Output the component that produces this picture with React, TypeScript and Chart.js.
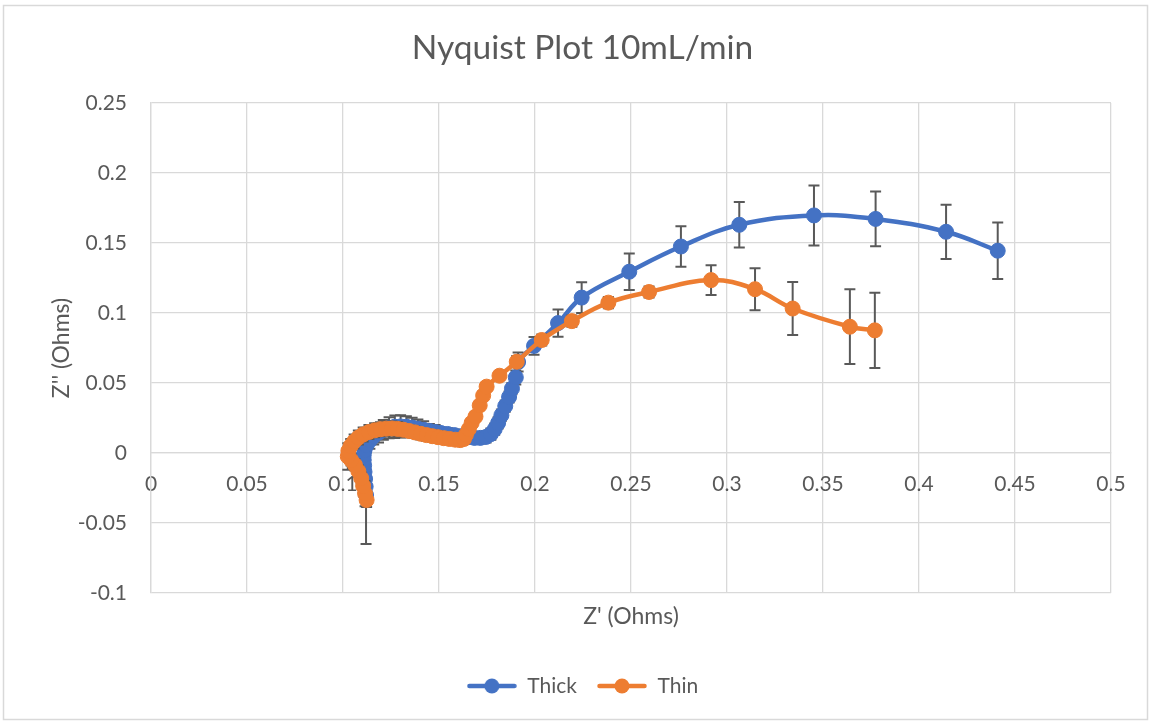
import { useEffect, useRef } from 'react';
import { Chart, registerables } from 'chart.js';

Chart.register(...registerables);

// Thick electrode: Z' (Ohms), Z'' (Ohms) and the Z'' standard deviation, high to low frequency
const thickX = [
  0.112, 0.1118, 0.1115, 0.1112, 0.111, 0.1108, 0.1108, 0.1112, 0.1122, 0.114,
  0.116, 0.1185, 0.121, 0.124, 0.127, 0.13, 0.133, 0.136, 0.139, 0.142,
  0.145, 0.148, 0.151, 0.1545, 0.158, 0.1615, 0.165, 0.1685, 0.1715, 0.1745,
  0.177, 0.179, 0.1808, 0.1825, 0.1845, 0.1865, 0.188, 0.19, 0.1912, 0.1995,
  0.212, 0.2243, 0.2491, 0.276, 0.3064, 0.3453, 0.3774, 0.4141, 0.441,
];
const thickY = [
  -0.03, -0.024, -0.0185, -0.0135, -0.009, -0.005, -0.0015, 0.002, 0.0055, 0.009,
  0.012, 0.0145, 0.0165, 0.018, 0.0188, 0.019, 0.0188, 0.0182, 0.0174, 0.0166,
  0.0158, 0.015, 0.0143, 0.0136, 0.0128, 0.012, 0.0113, 0.0108, 0.0108, 0.0115,
  0.0135, 0.017, 0.0215, 0.027, 0.0335, 0.04, 0.046, 0.054, 0.065, 0.0765,
  0.0928, 0.111, 0.1295, 0.1475, 0.163, 0.1697, 0.1672, 0.158, 0.1445,
];
const thickErr = [
  0.035, 0.01, 0.006, 0.005, 0.005, 0.005, 0.005, 0.005, 0.005, 0.006,
  0.006, 0.007, 0.007, 0.0075, 0.008, 0.008, 0.0075, 0.007, 0.0065, 0.006,
  0.005, 0.005, 0.004, 0.004, 0.004, 0.004, 0.004, 0.004, 0.004, 0.004,
  0.004, 0.004, 0.004, 0.004, 0.004, 0.004, 0.004, 0.005, 0.0068, 0.0064,
  0.0097, 0.011, 0.013, 0.0145, 0.0163, 0.0214, 0.0196, 0.0194, 0.0202,
];

// Thin electrode: Z' (Ohms), Z'' (Ohms) and the Z'' standard deviation, high to low frequency
const thinX = [
  0.1123, 0.1115, 0.1105, 0.1095, 0.108, 0.1062, 0.1042, 0.1025, 0.1028, 0.104,
  0.1058, 0.108, 0.1105, 0.1135, 0.1165, 0.1195, 0.1225, 0.1255, 0.1285, 0.1315,
  0.1345, 0.1375, 0.1405, 0.1435, 0.1465, 0.1495, 0.1525, 0.1555, 0.1585, 0.161,
  0.163, 0.164, 0.1655, 0.167, 0.169, 0.1712, 0.173, 0.1748, 0.1815, 0.1905,
  0.2035, 0.2192, 0.2382, 0.2594, 0.2917, 0.3146, 0.3342, 0.364, 0.377,
];
const thinY = [
  -0.0336, -0.029, -0.0235, -0.018, -0.013, -0.0085, -0.005, -0.0025, 0.0015, 0.005,
  0.0082, 0.011, 0.0133, 0.015, 0.0162, 0.017, 0.0174, 0.0175, 0.0172, 0.0166,
  0.0157, 0.0147, 0.0137, 0.0128, 0.012, 0.0113, 0.0106, 0.01, 0.0095, 0.0092,
  0.01, 0.013, 0.017, 0.0215, 0.026, 0.034, 0.041, 0.0474, 0.0552, 0.0652,
  0.0807, 0.0942, 0.1074, 0.115, 0.1235, 0.117, 0.1032, 0.0902, 0.0876,
];
const thinErr = [
  0.005, 0.009, 0.005, 0.004, 0.004, 0.004, 0.004, 0.0095, 0.004, 0.005,
  0.005, 0.005, 0.005, 0.005, 0.005, 0.005, 0.005, 0.005, 0.005, 0.004,
  0.004, 0.004, 0.004, 0.004, 0.004, 0.004, 0.003, 0.003, 0.003, 0.003,
  0.003, 0.003, 0.003, 0.003, 0.003, 0.003, 0.003, 0.003, 0.003, 0.004,
  0.004, 0.004, 0.004, 0.004, 0.0106, 0.015, 0.019, 0.0267, 0.0268,
];

const seriesNames = ['Thick', 'Thin'];

const xTicks = [0, 0.05, 0.1, 0.15, 0.2, 0.25, 0.3, 0.35, 0.4, 0.45, 0.5];
const xTickLabels = ['0', '0.05', '0.1', '0.15', '0.2', '0.25', '0.3', '0.35', '0.4', '0.45', '0.5'];
const yTicks = [-0.1, -0.05, 0, 0.05, 0.1, 0.15, 0.2, 0.25];
const yTickLabels = ['-0.1', '-0.05', '0', '0.05', '0.1', '0.15', '0.2', '0.25'];

const THICK_COLOR = '#4472C4';
const THIN_COLOR = '#ED7D31';
const TEXT_COLOR = '#595959';
const GRID_COLOR = '#D9D9D9';
const ERR_COLOR = '#595959';
const FONT = 'Lato, "Open Sans", sans-serif';

const errorSets = [thickErr, thinErr];

// Vertical error bars, drawn just beneath each series' own line and markers
const errorBarPlugin = {
  id: 'errorBars',
  beforeDatasetDraw(chart: any, args: any) {
    const errs = errorSets[args.index];
    if (!errs) return;
    const data = chart.data.datasets[args.index].data as { x: number; y: number }[];
    const xs = chart.scales.x;
    const ys = chart.scales.y;
    const ctx = chart.ctx;
    const cap = 5.5;
    ctx.save();
    ctx.strokeStyle = ERR_COLOR;
    ctx.lineWidth = 2;
    data.forEach((p, i) => {
      const px = xs.getPixelForValue(p.x);
      const top = ys.getPixelForValue(p.y + errs[i]);
      const bottom = ys.getPixelForValue(p.y - errs[i]);
      ctx.beginPath();
      ctx.moveTo(px, top);
      ctx.lineTo(px, bottom);
      ctx.moveTo(px - cap, top);
      ctx.lineTo(px + cap, top);
      ctx.moveTo(px - cap, bottom);
      ctx.lineTo(px + cap, bottom);
      ctx.stroke();
    });
    ctx.restore();
  },
};

// White background with a thin outer frame
const framePlugin = {
  id: 'frame',
  beforeDraw(chart: any) {
    const ctx = chart.ctx;
    ctx.save();
    ctx.fillStyle = '#FFFFFF';
    ctx.fillRect(0, 0, chart.width, chart.height);
    ctx.strokeStyle = GRID_COLOR;
    ctx.lineWidth = 1.5;
    ctx.strokeRect(3.5, 5.5, chart.width - 7, chart.height - 10);
    ctx.restore();
  },
};

function legendIcon(color: string): HTMLCanvasElement {
  const c = document.createElement('canvas');
  c.width = 50;
  c.height = 18;
  const g = c.getContext('2d')!;
  g.strokeStyle = color;
  g.lineWidth = 4.5;
  g.lineCap = 'round';
  g.beginPath();
  g.moveTo(2.5, 9);
  g.lineTo(47.5, 9);
  g.stroke();
  g.fillStyle = color;
  g.beginPath();
  g.arc(25, 9, 7.5, 0, Math.PI * 2);
  g.fill();
  return c;
}

export default function App() {
  const ref = useRef<HTMLCanvasElement>(null);

  useEffect(() => {
    const canvas = ref.current;
    if (!canvas) return;
    const toPoints = (xs: number[], ys: number[]) => xs.map((x, i) => ({ x, y: ys[i] }));
    const icons = [legendIcon(THICK_COLOR), legendIcon(THIN_COLOR)];

    const series = (label: string, xs: number[], ys: number[], color: string, order: number) => ({
      label,
      data: toPoints(xs, ys),
      showLine: true,
      tension: 0.4,
      borderColor: color,
      backgroundColor: color,
      borderWidth: 4.5,
      pointRadius: 7.5,
      pointHoverRadius: 7.5,
      pointBackgroundColor: color,
      pointBorderColor: color,
      pointBorderWidth: 1,
      order,
    });

    const chart = new Chart(canvas, {
      type: 'scatter',
      data: {
        datasets: [
          series(seriesNames[0], thickX, thickY, THICK_COLOR, 2),
          series(seriesNames[1], thinX, thinY, THIN_COLOR, 1),
        ],
      },
      options: {
        responsive: false,
        maintainAspectRatio: false,
        animation: false,
        devicePixelRatio: 1,
        layout: { padding: { left: 54, right: 40, top: 0, bottom: 17.5 } },
        plugins: {
          tooltip: { enabled: false },
          title: {
            display: true,
            text: 'Nyquist Plot 10mL/min',
            color: TEXT_COLOR,
            font: { family: FONT, size: 33.5, weight: 'normal', lineHeight: 1.2 },
            padding: { top: 27.9, bottom: 34.9 },
          },
          subtitle: {
            display: true,
            position: 'bottom',
            fullSize: false,
            text: "Z' (Ohms)",
            color: TEXT_COLOR,
            font: { family: FONT, size: 23, weight: 'normal', lineHeight: 1.2 },
            padding: { top: 10.2, bottom: 24.7 },
          },
          legend: {
            display: true,
            position: 'bottom',
            weight: 3000,
            labels: {
              usePointStyle: true,
              pointStyleWidth: 50,
              padding: 20,
              color: TEXT_COLOR,
              font: { family: FONT, size: 21 },
              generateLabels: (c: any) => {
                const items = Chart.defaults.plugins.legend.labels.generateLabels(c);
                return items
                  .sort((a: any, b: any) => a.datasetIndex - b.datasetIndex)
                  .map((it: any) => ({ ...it, pointStyle: icons[it.datasetIndex] }));
              },
            },
          } as any,
        },
        scales: {
          x: {
            type: 'linear',
            position: { y: 0 } as any,
            min: 0,
            max: 0.5,
            afterBuildTicks: (scale: any) => {
              scale.ticks = xTicks.map((v) => ({ value: v }));
            },
            ticks: {
              padding: 19,
              color: TEXT_COLOR,
              font: { family: FONT, size: 21 },
              maxRotation: 0,
              autoSkip: false,
              callback: (_v: any, i: number) => xTickLabels[i],
            },
            grid: { color: GRID_COLOR, lineWidth: 1.3, drawTicks: false },
            border: { display: true, color: GRID_COLOR, width: 1.3 },
          },
          y: {
            type: 'linear',
            position: 'left',
            min: -0.1,
            max: 0.25,
            afterBuildTicks: (scale: any) => {
              scale.ticks = yTicks.map((v) => ({ value: v }));
            },
            afterFit: (scale: any) => {
              scale.width = 97;
            },
            ticks: {
              padding: 24,
              color: TEXT_COLOR,
              font: { family: FONT, size: 21 },
              autoSkip: false,
              callback: (_v: any, i: number) => yTickLabels[i],
            },
            grid: { color: GRID_COLOR, lineWidth: 1.3, drawTicks: false },
            border: { display: true, color: GRID_COLOR, width: 1.3 },
            title: {
              display: true,
              text: "Z'' (Ohms)",
              color: TEXT_COLOR,
              font: { family: FONT, size: 23, weight: 'normal', lineHeight: 1.2 },
              padding: { top: -6, bottom: 0 },
            },
          },
        },
      },
      plugins: [framePlugin, errorBarPlugin],
    } as any);

    return () => chart.destroy();
  }, []);

  return (
    <div style={{ position: 'absolute', left: 0, top: 0, width: 1151, height: 724 }}>
      <canvas ref={ref} width={1151} height={724} style={{ display: 'block' }} />
    </div>
  );
}
